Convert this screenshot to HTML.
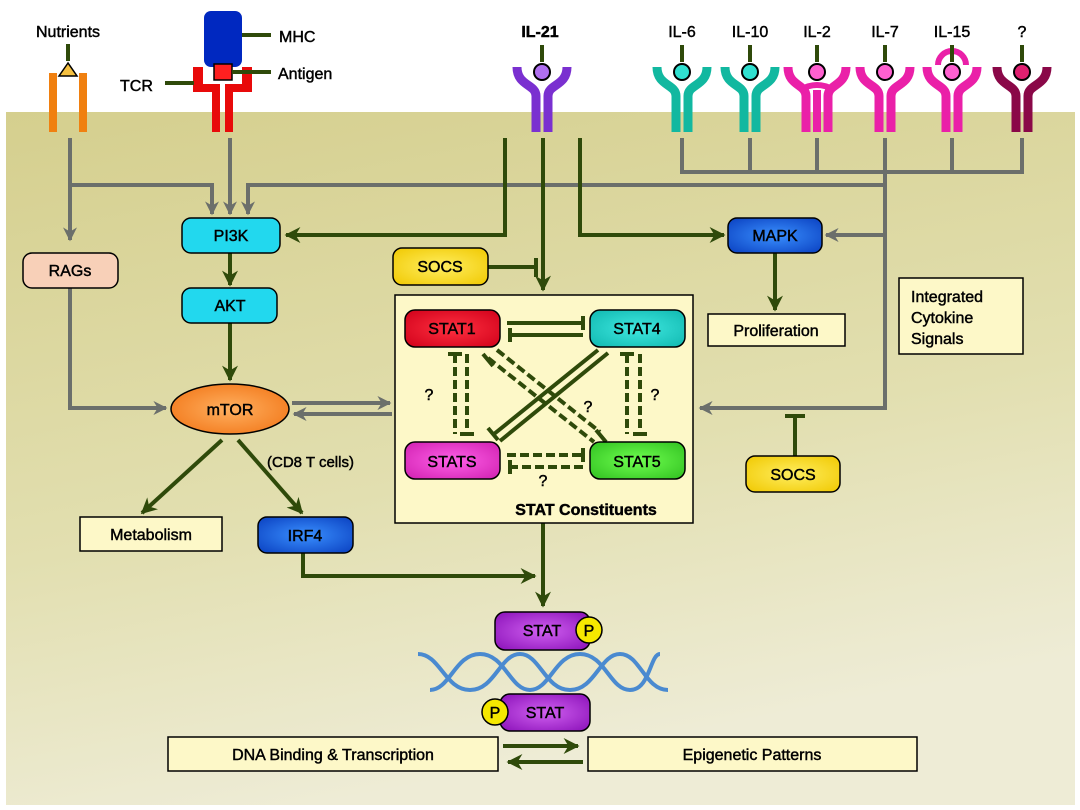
<!DOCTYPE html>
<html><head><meta charset="utf-8"><style>
html,body{margin:0;padding:0;background:#fff;}
svg{display:block;font-family:"Liberation Sans",sans-serif;}
svg text{stroke:#000;stroke-width:0.45px;fill:#000;}
</style></head><body>
<svg width="1080" height="810" viewBox="0 0 1080 810" xmlns="http://www.w3.org/2000/svg">
<defs>
<linearGradient id="bg" x1="0" y1="0" x2="0.3" y2="1"><stop offset="0" stop-color="#d5cf8e"/><stop offset="0.6" stop-color="#e2dfb0"/><stop offset="1" stop-color="#eeecd6"/></linearGradient>
<marker id="g" viewBox="0 0 10 10" refX="9" refY="5" markerWidth="14" markerHeight="14" orient="auto" markerUnits="userSpaceOnUse"><path d="M0,0 L10,5 L0,10 L3,5 Z" fill="#6b6f6b" stroke="none"/></marker>
<marker id="d" viewBox="0 0 10 10" refX="9" refY="5" markerWidth="16" markerHeight="16" orient="auto" markerUnits="userSpaceOnUse"><path d="M0,0 L10,5 L0,10 L3,5 Z" fill="#2f4a0a" stroke="none"/></marker>
<radialGradient id="red" cx="0.5" cy="0.5" r="0.7"><stop offset="0" stop-color="#ff3040"/><stop offset="1" stop-color="#d0001a"/></radialGradient>
<radialGradient id="teal" cx="0.5" cy="0.5" r="0.7"><stop offset="0" stop-color="#40e8e0"/><stop offset="1" stop-color="#10b8b0"/></radialGradient>
<radialGradient id="mag" cx="0.5" cy="0.5" r="0.7"><stop offset="0" stop-color="#ff60e8"/><stop offset="1" stop-color="#d020b0"/></radialGradient>
<radialGradient id="grn" cx="0.5" cy="0.5" r="0.7"><stop offset="0" stop-color="#70ff50"/><stop offset="1" stop-color="#30c020"/></radialGradient>
<radialGradient id="org" cx="0.5" cy="0.5" r="0.7"><stop offset="0" stop-color="#ffb060"/><stop offset="1" stop-color="#f07010"/></radialGradient>
<radialGradient id="blu" cx="0.5" cy="0.5" r="0.7"><stop offset="0" stop-color="#3a90ff"/><stop offset="1" stop-color="#0a40c0"/></radialGradient>
<radialGradient id="pur" cx="0.5" cy="0.5" r="0.7"><stop offset="0" stop-color="#d060f0"/><stop offset="1" stop-color="#8a10b8"/></radialGradient>
<radialGradient id="yel" cx="0.5" cy="0.5" r="0.7"><stop offset="0" stop-color="#ffee60"/><stop offset="1" stop-color="#f0c800"/></radialGradient>
</defs>
<rect x="6" y="112" width="1069" height="693" fill="url(#bg)"/>

<!-- Nutrients -->
<text x="68" y="37" font-size="16" text-anchor="middle">Nutrients</text>
<line x1="68" y1="44" x2="68" y2="61" stroke="#2f4a0a" stroke-width="4"/>
<polygon points="68,63 59,76 77,76" fill="#f5c040" stroke="#000" stroke-width="1.5"/>
<rect x="49" y="73" width="8" height="59" fill="#f08010"/>
<rect x="79" y="73" width="8" height="59" fill="#f08010"/>

<!-- MHC / TCR -->
<rect x="204" y="11" width="38" height="56" rx="7" fill="#0028c0"/>
<line x1="242" y1="35" x2="271" y2="35" stroke="#2f4a0a" stroke-width="4"/>
<text x="279" y="42" font-size="16">MHC</text>
<path d="M193,67 h10 v17 h17 v48 h-8 v-40 h-19 Z" fill="#e80a0a"/>
<path d="M252,67 h-10 v17 h-17 v48 h8 v-40 h19 Z" fill="#e80a0a"/>
<rect x="214" y="64" width="18" height="16" fill="#ff2020" stroke="#000" stroke-width="1.5"/>
<line x1="232" y1="72" x2="271" y2="72" stroke="#2f4a0a" stroke-width="4"/>
<text x="278" y="79" font-size="16">Antigen</text>
<line x1="165" y1="83" x2="194" y2="83" stroke="#2f4a0a" stroke-width="4"/>
<text x="120" y="91" font-size="16">TCR</text>

<!-- receptors -->
<g fill="none" stroke-width="9">
<g stroke="#7a30d0"><path d="M517,67 C517,86 536,84 536,96 V132"/><path d="M567,67 C567,86 548,84 548,96 V132"/></g>
<g stroke="#12b8a0"><path d="M657,67 C657,86 676,84 676,96 V132"/><path d="M707,67 C707,86 688,84 688,96 V132"/></g>
<g stroke="#12b8a0"><path d="M725,67 C725,86 744,84 744,96 V132"/><path d="M775,67 C775,86 756,84 756,96 V132"/></g>
<g stroke="#ea20a8"><path d="M788,67 C788,86 806,84 806,96 V132"/><path d="M846,67 C846,86 828,84 828,96 V132"/><path d="M817,90 V132" stroke-width="8"/><path d="M800,90 Q817,80 834,90" stroke-width="6"/></g>
<g stroke="#ea20a8"><path d="M860,67 C860,86 879,84 879,96 V132"/><path d="M910,67 C910,86 891,84 891,96 V132"/></g>
<g stroke="#ea20a8"><path d="M927,67 C927,86 946,84 946,96 V132"/><path d="M977,67 C977,86 958,84 958,96 V132"/></g>
<g stroke="#8a0848"><path d="M997,67 C997,86 1016,84 1016,96 V132"/><path d="M1047,67 C1047,86 1028,84 1028,96 V132"/></g>
</g>
<path d="M938,65 a14,14 0 0 1 28,0" fill="none" stroke="#ea20a8" stroke-width="6"/>
<text x="540" y="37" font-size="16" text-anchor="middle" font-weight="bold">IL-21</text>
<g font-size="16" text-anchor="middle">
<text x="682" y="37">IL-6</text><text x="750" y="37">IL-10</text><text x="817" y="37">IL-2</text><text x="885" y="37">IL-7</text><text x="952" y="37">IL-15</text><text x="1022" y="37">?</text>
</g>
<g stroke="#2f4a0a" stroke-width="4">
<line x1="542" y1="45" x2="542" y2="62"/>
<line x1="682" y1="45" x2="682" y2="62"/><line x1="750" y1="45" x2="750" y2="62"/><line x1="817" y1="45" x2="817" y2="62"/><line x1="885" y1="45" x2="885" y2="62"/><line x1="952" y1="45" x2="952" y2="62"/><line x1="1022" y1="45" x2="1022" y2="62"/>
</g>
<circle cx="542" cy="72" r="8" fill="#b070f0" stroke="#000" stroke-width="2"/>
<circle cx="682" cy="72" r="8" fill="#30e0d0" stroke="#000" stroke-width="2"/>
<circle cx="750" cy="72" r="8" fill="#30e0d0" stroke="#000" stroke-width="2"/>
<circle cx="817" cy="72" r="8" fill="#ff60d0" stroke="#000" stroke-width="2"/>
<circle cx="885" cy="72" r="8" fill="#ff60d0" stroke="#000" stroke-width="2"/>
<circle cx="952" cy="72" r="8" fill="#ff60d0" stroke="#000" stroke-width="2"/>
<circle cx="1022" cy="72" r="8" fill="#e02070" stroke="#000" stroke-width="2"/>

<!-- gray connectors -->
<g stroke="#6b6f6b" stroke-width="4" fill="none">
<path d="M70,138 V240" marker-end="url(#g)"/>
<path d="M70,185 H212 V214" marker-end="url(#g)"/>
<path d="M230,138 V214" marker-end="url(#g)"/>
<path d="M885,185 H248 V214" marker-end="url(#g)"/>
<path d="M682,138 V172 H1022 V138 M750,138 V172 M817,138 V172 M952,138 V172"/>
<path d="M885,138 V408 H700" marker-end="url(#g)"/>
<path d="M885,235 H826" marker-end="url(#g)"/>
<path d="M70,288 V408 H166" marker-end="url(#g)"/>
<path d="M292,403 H390" marker-end="url(#g)"/>
<path d="M392,414 H294" marker-end="url(#g)"/>
</g>

<!-- dark green connectors -->
<g stroke="#2f4a0a" stroke-width="4" fill="none">
<path d="M505,138 V235 H286" marker-end="url(#d)"/>
<path d="M543,138 V290" marker-end="url(#d)"/>
<path d="M580,138 V235 H724" marker-end="url(#d)"/>
<path d="M230,253 V285" marker-end="url(#d)"/>
<path d="M230,323 V380" marker-end="url(#d)"/>
<path d="M775,253 V310" marker-end="url(#d)"/>
<path d="M222,440 L142,513" marker-end="url(#d)"/>
<path d="M238,440 L302,513" marker-end="url(#d)"/>
<path d="M303,553 V576 H535" marker-end="url(#d)"/>
<path d="M543,523 V606" marker-end="url(#d)"/>
<path d="M488,267 H535 M536,258 V277"/>
<path d="M795,456 V416 M785,416 H805"/>
<path d="M503,746 H578" marker-end="url(#d)"/>
<path d="M583,762 H508" marker-end="url(#d)"/>
</g>

<!-- boxes -->
<g stroke="#000" stroke-width="1.5" font-size="16" text-anchor="middle">
<rect x="182" y="218" width="98" height="35" rx="9" fill="#22d8ee"/><text x="231" y="241">PI3K</text>
<rect x="182" y="288" width="95" height="35" rx="9" fill="#22d8ee"/><text x="230" y="311">AKT</text>
<rect x="23" y="253" width="95" height="35" rx="9" fill="#f8d0b8"/><text x="70" y="276">RAGs</text>
<ellipse cx="230" cy="409" rx="59" ry="25" fill="url(#org)"/><text x="230" y="415">mTOR</text>
<rect x="393" y="248" width="95" height="37" rx="9" fill="url(#yel)"/><text x="440" y="272">SOCS</text>
<rect x="728" y="218" width="94" height="35" rx="9" fill="url(#blu)"/><text x="775" y="241">MAPK</text>
<rect x="708" y="314" width="137" height="32" fill="#fdf8c8"/><text x="776" y="336">Proliferation</text>
<rect x="899" y="278" width="124" height="76" fill="#fdf8c8"/>
<text x="911" y="302" text-anchor="start">Integrated</text>
<text x="911" y="323" text-anchor="start">Cytokine</text>
<text x="911" y="344" text-anchor="start">Signals</text>
<rect x="395" y="295" width="298" height="228" fill="#fdf8c8"/>
<rect x="746" y="456" width="94" height="36" rx="9" fill="url(#yel)"/><text x="793" y="480">SOCS</text>
<rect x="80" y="517" width="142" height="34" fill="#fdf8c8"/><text x="151" y="540">Metabolism</text>
<rect x="258" y="517" width="95" height="36" rx="9" fill="url(#blu)"/><text x="305" y="541">IRF4</text>
<rect x="168" y="737" width="330" height="34" fill="#fdf8c8"/><text x="333" y="760">DNA Binding &amp; Transcription</text>
<rect x="588" y="737" width="329" height="34" fill="#fdf8c8"/><text x="752" y="760">Epigenetic Patterns</text>
</g>
<text x="267" y="467" font-size="15">(CD8 T cells)</text>

<!-- STAT constituents -->
<g stroke="#2f4a0a" stroke-width="4" fill="none">
<path d="M507,323 H583 M583,316 V330"/>
<path d="M583,335 H510 M510,328 V342"/>
<path d="M598,350 L494,434 M488,428 L498,440"/>
<path d="M608,353 L500,441"/>
<g stroke-dasharray="9,4">
<path d="M497,350 L600,432"/><path d="M488,358 L594,442"/>
<path d="M455,354 V434"/><path d="M467,354 V434"/>
<path d="M627,354 V434"/><path d="M640,354 V434"/>
<path d="M507,455 H583"/><path d="M583,467 H510"/>
</g>
<path d="M483,354 L493,366 M596,430 L606,442 M448,354 H462 M460,434 H474 M620,354 H634 M633,434 H647 M583,448 V462 M510,460 V474"/>
</g>
<g stroke="#000" stroke-width="1.5" font-size="16" text-anchor="middle">
<rect x="405" y="310" width="95" height="37" rx="10" fill="url(#red)"/><text x="452" y="334">STAT1</text>
<rect x="590" y="310" width="95" height="37" rx="10" fill="url(#teal)"/><text x="637" y="334">STAT4</text>
<rect x="405" y="442" width="95" height="37" rx="10" fill="url(#mag)"/><text x="452" y="467">STATS</text>
<rect x="590" y="442" width="95" height="37" rx="10" fill="url(#grn)"/><text x="637" y="467">STAT5</text>
</g>
<g font-size="16" text-anchor="middle">
<text x="429" y="400">?</text><text x="588" y="412">?</text><text x="655" y="400">?</text><text x="543" y="486">?</text>
<text x="586" y="515" font-weight="bold">STAT Constituents</text>
</g>

<!-- STAT / DNA -->
<g fill="none" stroke="#4a8ad0" stroke-width="4">
<path d="M418,654 C440,654 445,690 470,690 S500,654 520,654 S545,690 570,690 S600,654 620,654 S645,690 668,690"/>
<path d="M430,690 C450,690 455,654 480,654 S510,690 530,690 S555,654 580,654 S610,690 630,690 S650,654 660,654"/>
</g>
<g stroke="#000" stroke-width="1.5" font-size="16" text-anchor="middle">
<rect x="495" y="612" width="95" height="38" rx="10" fill="url(#pur)"/><text x="542" y="636">STAT</text>
<circle cx="589" cy="630" r="13" fill="#f5e800"/><text x="589" y="636">P</text>
<rect x="500" y="694" width="90" height="37" rx="10" fill="url(#pur)"/><text x="545" y="718">STAT</text>
<circle cx="495" cy="712" r="13" fill="#f5e800"/><text x="495" y="718">P</text>
</g>
</svg>
</body></html>
